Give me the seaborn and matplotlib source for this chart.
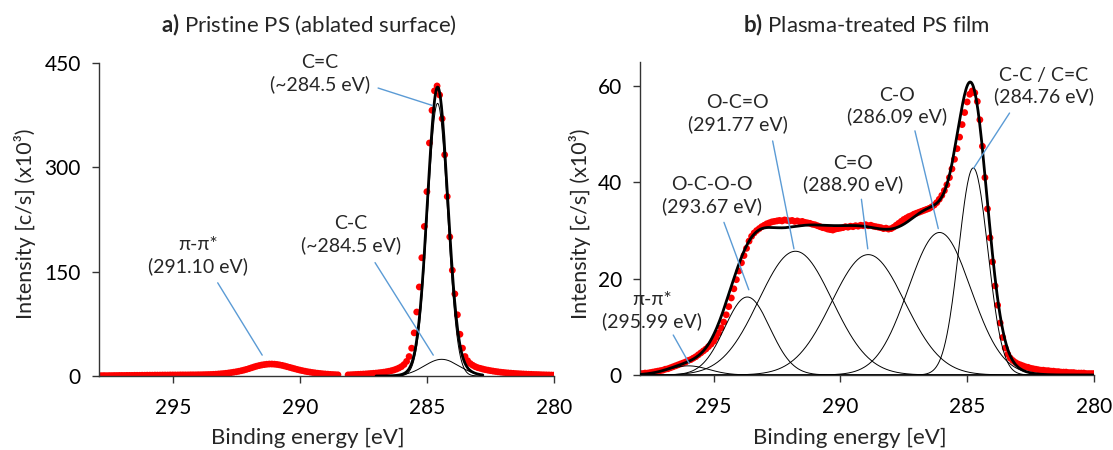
import numpy as np
import pandas as pd
import seaborn as sns
import matplotlib.pyplot as plt

sns.set_style("ticks")
plt.rcParams['font.family'] = ['Lato', 'DejaVu Sans']
plt.rcParams['mathtext.fontset'] = 'custom'
plt.rcParams['mathtext.rm'] = 'Lato'
plt.rcParams['mathtext.bf'] = 'Lato:bold'

# binding energy grid of the measured points (eV), 297.9 -> 280.0
energy = np.round(np.arange(297.9, 279.95, -0.1), 1)

# a) pristine PS, measured intensity (x10^3 c/s)
counts_a = [
    0.5, 0.5, 0.6, 0.5, 0.6, 0.6, 0.7, 0.7, 0.8, 0.8,
    0.8, 0.9, 0.9, 0.9, 1.0, 1.0, 1.0, 1.1, 1.1, 1.2,
    1.2, 1.2, 1.3, 1.3, 1.3, 1.4, 1.4, 1.4, 1.5, 1.5,
    1.5, 1.5, 1.6, 1.6, 1.6, 1.6, 1.7, 1.7, 1.7, 1.8,
    1.8, 1.9, 2.0, 2.1, 2.2, 2.4, 2.6, 2.9, 3.2, 3.5,
    3.9, 4.4, 4.9, 5.5, 6.1, 6.8, 7.6, 8.5, 9.5, 10.6,
    11.8, 13.0, 14.1, 15.0, 15.8, 16.4, 16.9, 17.2, 17.2, 17.0,
    16.6, 16.0, 15.3, 14.4, 13.4, 12.4, 11.4, 10.4, 9.4, 8.5,
    7.7, 6.9, 6.2, 5.6, 5.0, 4.5, 4.0, 3.6, 3.2, 2.9,
    2.6, 2.3, 2.1, 1.9, 1.7, np.nan, np.nan, np.nan, 1.6, 1.8,
    2.0, 2.2, 2.4, 2.6, 2.8, 3.0, 3.3, 3.6, 3.9, 4.2,
    4.6, 5.0, 5.5, 6.1, 6.8, 7.6, 8.6, 9.9, 11.5, 13.5,
    16.5, 21.0, 28.0, 40.0, 62.0, 92.0, 128.0, 170.0, 215.0, 265.0,
    335.0, 382.0, 410.0, 417.0, 404.0, 370.0, 318.0, 258.0, 200.0, 152.0,
    118.0, 88.0, 60.0, 40.0, 28.0, 22.0, 18.0, 15.5, 13.5, 12.0,
    11.0, 10.0, 9.1, 8.4, 7.7, 7.1, 6.5, 6.0, 5.5, 5.1,
    4.7, 4.4, 4.1, 3.8, 3.5, 3.3, 3.1, 2.9, 2.7, 2.5,
    2.4, 2.2, 2.1, 2.0, 1.8, 1.7, 1.6, 1.5, 1.4, 1.3,
]

# b) plasma-treated PS film, measured intensity (x10^3 c/s)
counts_b = [
    0.3, 0.3, 0.4, 0.4, 0.5, 0.6, 0.7, 0.8, 0.9, 1.0,
    1.2, 1.3, 1.5, 1.7, 1.9, 2.1, 2.3, 2.5, 2.7, 3.0,
    3.2, 3.5, 3.8, 4.2, 4.6, 5.0, 5.4, 5.9, 6.4, 7.0,
    7.8, 8.7, 9.8, 11.0, 12.5, 14.2, 16.0, 17.9, 19.8, 21.6,
    23.3, 24.8, 26.3, 27.8, 28.8, 29.5, 30.0, 30.4, 30.8, 31.1,
    31.4, 31.6, 31.8, 31.9, 32.0, 32.1, 32.0, 32.2, 32.1, 32.0,
    32.1, 31.9, 32.0, 31.8, 31.9, 31.7, 31.6, 31.5, 31.3, 31.2,
    31.0, 30.8, 30.6, 30.5, 30.3, 30.2, 30.1, 30.3, 30.4, 30.5,
    30.6, 30.8, 30.7, 30.9, 30.8, 31.0, 30.9, 31.1, 31.0, 31.2,
    31.0, 31.1, 30.9, 30.8, 30.7, 30.6, 30.4, 30.5, 30.3, 30.4,
    30.7, 31.1, 31.5, 31.9, 32.3, 32.6, 32.9, 33.1, 33.4, 33.6,
    33.8, 34.0, 34.2, 34.4, 34.6, 34.9, 35.3, 35.8, 36.5, 37.3,
    38.3, 39.5, 41.0, 42.8, 44.8, 47.0, 49.4, 52.0, 54.5, 56.7,
    58.3, 59.0, 58.6, 56.8, 53.0, 47.5, 41.0, 34.5, 28.5, 23.5,
    18.5, 14.5, 10.8, 7.8, 5.6, 4.3, 3.5, 3.0, 2.6, 2.3,
    2.1, 1.9, 1.7, 1.6, 1.4, 1.3, 1.2, 1.1, 1.0, 1.0,
    0.9, 0.9, 0.8, 0.8, 0.7, 0.7, 0.6, 0.6, 0.6, 0.5,
    0.5, 0.5, 0.4, 0.4, 0.4, 0.4, 0.3, 0.3, 0.3, 0.3,
]

# fitted components: centre (eV), height (x10^3 c/s), FWHM (eV)
peaks_a = ["C=C", "C-C"]
center_a = [284.58, 284.42]
height_a = [392.0, 24.0]
fwhm_a = [0.92, 1.6]

peaks_b = ["pi-pi*", "O-C-O-O", "O-C=O", "C=O", "C-O", "C-C / C=C"]
center_b = [295.99, 293.67, 291.77, 288.90, 286.09, 284.76]
height_b = [1.9, 16.2, 25.7, 25.0, 29.6, 43.0]
fwhm_b = [1.9, 2.1, 3.4, 3.4, 2.9, 1.35]

RED = "#FF0000"
BLUE = "#5B9BD5"
AXC = "#333333"


def gauss(x, c, h, w):
    return h * np.exp(-4 * np.log(2) * ((x - c) / w) ** 2)


def components(x, centers, heights, widths, names):
    rows = []
    for c, h, w, n in zip(centers, heights, widths, names):
        rows.append(pd.DataFrame({"energy": x, "counts": gauss(x, c, h, w), "peak": n}))
    return pd.concat(rows, ignore_index=True)


df_a = pd.DataFrame({"energy": energy, "counts": counts_a}).dropna()
df_b = pd.DataFrame({"energy": energy, "counts": counts_b})

xa = np.linspace(287.0, 282.8, 300)
comp_a = components(xa, center_a, height_a, fwhm_a, peaks_a)
env_a = comp_a.groupby("energy", as_index=False)["counts"].sum()

xb = np.linspace(297.9, 280.0, 600)
comp_b = components(xb, center_b, height_b, fwhm_b, peaks_b)
env_b = comp_b.groupby("energy", as_index=False)["counts"].sum()

fig = plt.figure(figsize=(11.13, 4.5), dpi=100)
ax_a = fig.add_axes([99 / 1113, 1 - 376 / 450, 455 / 1113, 313 / 450])
ax_b = fig.add_axes([640 / 1113, 1 - 375 / 450, 454 / 1113, 313 / 450])

for ax, df, comp, env in [(ax_a, df_a, comp_a, env_a), (ax_b, df_b, comp_b, env_b)]:
    sns.scatterplot(data=df, x="energy", y="counts", ax=ax, color=RED, s=24,
                    edgecolor="none", linewidth=0, zorder=2)
    for name, grp in comp.groupby("peak", sort=False):
        sns.lineplot(data=grp, x="energy", y="counts", ax=ax, color="black",
                     lw=0.7, zorder=3)
    sns.lineplot(data=env, x="energy", y="counts", ax=ax, color="black",
                 lw=2.0, zorder=4)

    ax.set_xlim(297.9, 280)
    ax.set_xticks([295, 290, 285, 280])
    sns.despine(ax=ax)
    for side in ["left", "bottom"]:
        ax.spines[side].set_color(AXC)
        ax.spines[side].set_linewidth(1.0)
    ax.tick_params(direction="out", length=5, width=1, color=AXC,
                   labelsize=15, labelcolor="black")
    ax.tick_params(axis="x", pad=11)
    ax.tick_params(axis="y", pad=8)
    ax.set_xlabel("Binding energy [eV]", fontsize=16)
    ax.set_ylabel("Intensity [c/s] (x10³)", fontsize=15.5)
    ax.xaxis.label.set_va("center")
    ax.yaxis.label.set_va("center")

ax_a.set_ylim(0, 450)
ax_a.set_yticks([0, 150, 300, 450])
ax_b.set_ylim(0, 65)
ax_b.set_yticks([0, 20, 40, 60])

ax_a.xaxis.set_label_coords(0.459, -0.198)
ax_a.yaxis.set_label_coords(-0.163, 0.486)
ax_b.xaxis.set_label_coords(0.463, -0.201)
ax_b.yaxis.set_label_coords(-0.132, 0.482)

# labels and leader lines
notes_a = [
    ("C=C\n(~284.5 eV)", 289.21, 435, (286.92, 414), (284.79, 389)),
    ("C-C\n(~284.5 eV)", 287.98, 203, (287.04, 163), (284.75, 30)),
    ("π-π*\n(291.10 eV)", 294.02, 173, (293.23, 134), (291.48, 30)),
]
notes_b = [
    ("O-C=O\n(291.77 eV)", 294.04, 54.3, (292.67, 48.6), (291.83, 26.2)),
    ("C=O\n(288.90 eV)", 289.51, 41.7, (289.17, 36.5), (288.92, 26.2)),
    ("C-O\n(286.09 eV)", 287.78, 55.9, (287.06, 50.7), (286.14, 30.4)),
    ("C-C / C=C\n(284.76 eV)", 281.97, 60.0, (283.33, 54.4), (284.75, 42.9)),
    ("O-C-O-O\n(293.67 eV)", 295.07, 37.3, (294.59, 31.7), (293.61, 17.7)),
    ("π-π*\n(295.99 eV)", 297.43, 13.4, (296.59, 8.3), (295.96, 2.4)),
]
for ax, notes in [(ax_a, notes_a), (ax_b, notes_b)]:
    for txt, tx, ty, p0, p1 in notes:
        ax.text(tx, ty, txt, ha="center", va="center", fontsize=14,
                linespacing=1.25, zorder=6)
        ax.plot([p0[0], p1[0]], [p0[1], p1[1]], color=BLUE, lw=1.0,
                zorder=5, clip_on=False)

fig.text(309 / 1113, 1 - 25 / 450, r"$\mathbf{a)}$ Pristine PS (ablated surface)",
         ha="center", va="center", fontsize=16)
fig.text(866 / 1113, 1 - 25 / 450, r"$\mathbf{b)}$ Plasma-treated PS film",
         ha="center", va="center", fontsize=16)

fig.savefig("out.png", dpi=100)
